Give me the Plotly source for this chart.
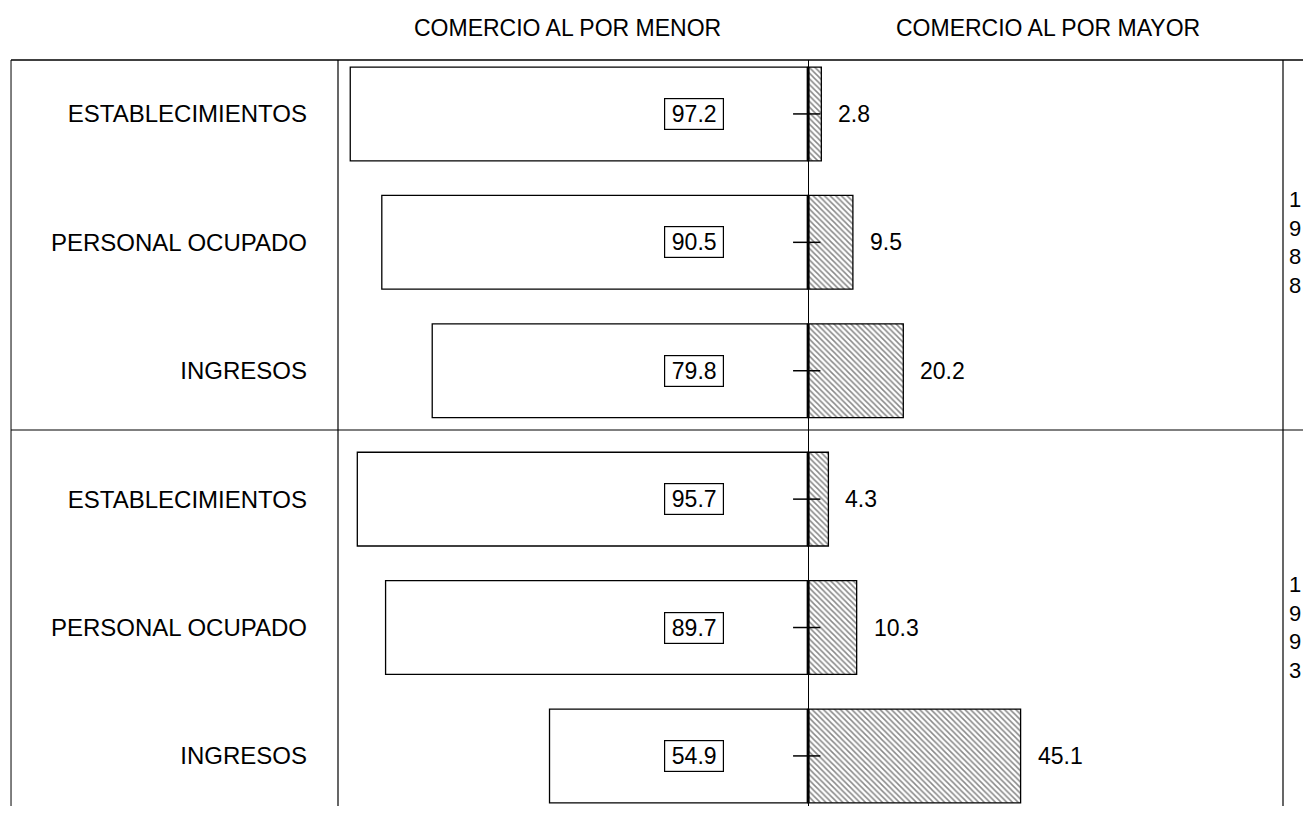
import plotly.graph_objects as go

# data (percent shares)
labels = ["ESTABLECIMIENTOS", "PERSONAL OCUPADO", "INGRESOS",
          "ESTABLECIMIENTOS", "PERSONAL OCUPADO", "INGRESOS"]
years = ["1988", "1993"]
menor = [97.2, 90.5, 79.8, 95.7, 89.7, 54.9]
mayor = [2.8, 9.5, 20.2, 4.3, 10.3, 45.1]
pos = [0, 1, 2, 3, 4, 5]

FONT = "Liberation Sans, Arial, sans-serif"
BW = 0.73

fig = go.Figure()

# retail bars go to the left of zero, plain white boxes
fig.add_trace(go.Bar(
    y=pos, x=[-v for v in menor], orientation="h", width=BW,
    marker=dict(color="white", line=dict(color="black", width=1.3)),
    hoverinfo="skip", showlegend=False))

# wholesale bars to the right, hatched
fig.add_trace(go.Bar(
    y=pos, x=mayor, orientation="h", width=BW,
    marker=dict(color="white", line=dict(color="black", width=1.3),
                pattern=dict(shape="\\", fgcolor="#111", bgcolor="white",
                             size=4, solidity=0.38)),
    hoverinfo="skip", showlegend=False))

shapes = []
annotations = []
for i in range(len(pos)):
    # thick edge on the zero side and the little tick
    shapes.append(dict(type="line", xref="x", yref="y", x0=0, x1=0,
                       y0=pos[i] - BW / 2, y1=pos[i] + BW / 2,
                       line=dict(color="black", width=3)))
    shapes.append(dict(type="line", xref="x", yref="y", x0=-3.2, x1=2.6,
                       y0=pos[i], y1=pos[i], line=dict(color="black", width=1.5)))
    annotations.append(dict(x=-24.2, y=pos[i], xref="x", yref="y",
                            text=f"{menor[i]:.1f}", showarrow=False,
                            width=56, height=28,
                            bordercolor="black", borderwidth=1.2, borderpad=1,
                            bgcolor="white", font=dict(size=23, color="black")))
    annotations.append(dict(x=mayor[i], y=pos[i], xref="x", yref="y",
                            text=f"{mayor[i]:.1f}", showarrow=False,
                            xanchor="left", xshift=15,
                            font=dict(size=23, color="black")))

# year labels written vertically, one digit per line
for k in range(len(years)):
    annotations.append(dict(x=1.021, y=pos[3 * k + 1], xref="paper", yref="y",
                            text="<br>".join(years[k]), showarrow=False,
                            font=dict(size=22, color="black")))

# column headers
annotations.append(dict(x=-51, y=1, xref="x", yref="paper", yshift=32,
                        yanchor="middle",
                        text="COMERCIO AL POR MENOR", showarrow=False,
                        font=dict(size=23, color="black")))
annotations.append(dict(x=51, y=1, xref="x", yref="paper", yshift=32,
                        yanchor="middle",
                        text="COMERCIO AL POR MAYOR", showarrow=False,
                        font=dict(size=23, color="black")))

# frame lines
sep = 1 - 370 / 746
shapes += [
    dict(type="line", xref="paper", yref="paper", x0=-0.346, x1=1.03, y0=1, y1=1,
         line=dict(color="black", width=1.5)),
    dict(type="line", xref="paper", yref="paper", x0=-0.346, x1=1.03, y0=sep, y1=sep,
         line=dict(color="black", width=1.2)),
    dict(type="line", xref="paper", yref="paper", x0=-0.346, x1=-0.346, y0=0, y1=1,
         line=dict(color="black", width=1)),
    dict(type="line", xref="paper", yref="paper", x0=0, x1=0, y0=0, y1=1,
         line=dict(color="black", width=1.2)),
    dict(type="line", xref="paper", yref="paper", x0=1, x1=1, y0=0, y1=1,
         line=dict(color="black", width=1.2)),
]

# page body has an 8px margin, so the figure is shrunk to avoid scrollbars
fig.update_layout(
    width=1303, height=798,
    margin=dict(l=330, r=28, t=52, b=0),
    paper_bgcolor="white", plot_bgcolor="white",
    barmode="overlay",
    font=dict(family=FONT, color="black"),
    shapes=shapes, annotations=annotations,
    xaxis=dict(range=[-99.8, 100.8], showgrid=False, showticklabels=False,
               zeroline=True, zerolinecolor="black", zerolinewidth=1),
    yaxis=dict(range=[5.39, -0.42], showgrid=False, zeroline=False,
               tickvals=pos, ticktext=labels, ticks="", ticklabelstandoff=30,
               tickfont=dict(size=24, color="black")),
)

fig.write_html("out.html")
